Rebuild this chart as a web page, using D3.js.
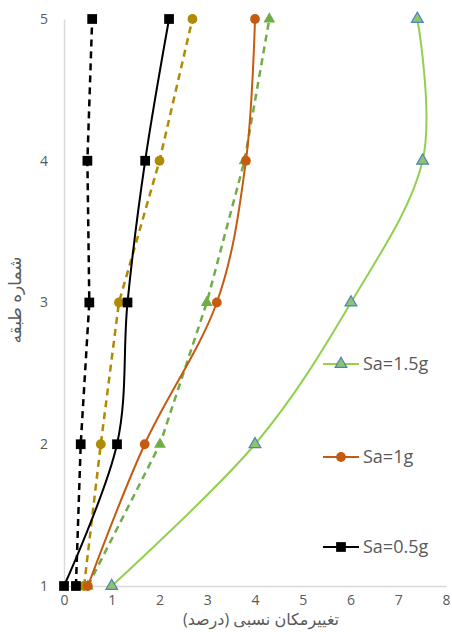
<!DOCTYPE html>
<html>
<head>
<meta charset="utf-8">
<script src="https://cdn.jsdelivr.net/npm/d3@7"></script>
<style>
  body { margin: 0; background: #fff; }
  text { font-family: "Open Sans", "DejaVu Sans", sans-serif; }
</style>
</head>
<body>
<svg width="452" height="632"></svg>
<script>
// floor numbers and drift values (%)
var floors = [1, 2, 3, 4, 5];
var xTicks = [0, 1, 2, 3, 4, 5, 6, 7, 8];
var sa05Solid = [0.00, 1.11, 1.33, 1.70, 2.20];
var sa05Dash  = [0.25, 0.35, 0.53, 0.49, 0.59];
var sa1Solid  = [0.50, 1.69, 3.20, 3.81, 4.00];
var sa1Dash   = [0.42, 0.77, 1.15, 2.00, 2.69];
var sa15Solid = [1.00, 4.00, 6.01, 7.51, 7.40];
var sa15Dash  = [0.50, 2.01, 2.99, 3.78, 4.30];
var legendLabels = ['Sa=1.5g', 'Sa=1g', 'Sa=0.5g'];

var svg = d3.select('svg');

var x = d3.scaleLinear().domain([0, 8]).range([64, 446]);
var y = d3.scaleLinear().domain([1, 5]).range([586, 19]);

// axes
var gx = svg.append('g').attr('transform', 'translate(0,' + y(1) + ')')
  .call(d3.axisBottom(x).tickValues(xTicks).tickFormat(d3.format('d'))
    .tickSize(0).tickSizeOuter(0).tickPadding(9));
var gy = svg.append('g').attr('transform', 'translate(' + x(0) + ',0)')
  .call(d3.axisLeft(y).tickValues(floors).tickFormat(d3.format('d'))
    .tickSize(0).tickSizeOuter(0).tickPadding(16));
[gx, gy].forEach(function (g) {
  g.select('.domain').attr('stroke', '#d9d9d9').attr('stroke-width', 1.5);
  g.selectAll('text').attr('fill', '#595959').style('font-size', '14px');
});

// axis titles
svg.append('text').attr('x', 261).attr('y', 625).attr('text-anchor', 'middle')
  .attr('direction', 'rtl').attr('fill', '#595959').style('font-size', '16px')
  .text('تغییرمکان نسبی (درصد)');
svg.append('text').attr('transform', 'translate(21,300) rotate(-90)').attr('text-anchor', 'middle')
  .attr('direction', 'rtl').attr('fill', '#595959').style('font-size', '17px')
  .text('شماره طبقه');

var series = [
  { vals: sa15Solid, color: '#92d050', width: 2, dash: null, smooth: true,
    shape: d3.symbolTriangle, size: 60, fill: '#8cc56c', stroke: '#4f81bd' },
  { vals: sa15Dash, color: '#70ad47', width: 2.5, dash: '7,5', smooth: false,
    shape: d3.symbolTriangle, size: 60, fill: '#70ad47', stroke: 'none' },
  { vals: sa1Dash, color: '#b08a00', width: 2.5, dash: '7,5', smooth: false,
    shape: d3.symbolCircle, size: 75, fill: '#b08a00', stroke: 'none' },
  { vals: sa1Solid, color: '#c55a11', width: 2, dash: null, smooth: true,
    shape: d3.symbolCircle, size: 75, fill: '#c55a11', stroke: 'none' },
  { vals: sa05Dash, color: '#000', width: 2.5, dash: '7,5', smooth: false,
    shape: d3.symbolSquare, size: 95, fill: '#000', stroke: 'none' },
  { vals: sa05Solid, color: '#000', width: 2, dash: null, smooth: true,
    shape: d3.symbolSquare, size: 95, fill: '#000', stroke: 'none' }
];

series.forEach(function (s) {
  var pts = floors.map(function (f, i) { return [s.vals[i], f]; });
  var line = d3.line()
    .x(function (d) { return x(d[0]); })
    .y(function (d) { return y(d[1]); })
    .curve(s.smooth ? d3.curveCatmullRom.alpha(0) : d3.curveLinear);
  svg.append('path').datum(pts).attr('d', line)
    .attr('fill', 'none').attr('stroke', s.color).attr('stroke-width', s.width)
    .attr('stroke-dasharray', s.dash);
  svg.selectAll(null).data(pts).enter().append('path')
    .attr('d', d3.symbol(s.shape, s.size))
    .attr('transform', function (d) { return 'translate(' + x(d[0]) + ',' + y(d[1]) + ')'; })
    .attr('fill', s.fill).attr('stroke', s.stroke).attr('stroke-width', 1.2);
});

// legend (solid series only)
var legendY = [364, 457, 547];
var legendSeries = [series[0], series[3], series[5]];
legendSeries.forEach(function (s, i) {
  var g = svg.append('g').attr('transform', 'translate(323,' + legendY[i] + ')');
  g.append('line').attr('x1', 0).attr('x2', 36).attr('stroke', s.color).attr('stroke-width', s.width);
  g.append('path').attr('d', d3.symbol(s.shape, s.size)).attr('transform', 'translate(18,0)')
    .attr('fill', s.fill).attr('stroke', s.stroke).attr('stroke-width', 1.2);
  g.append('text').attr('x', 40).attr('dy', '0.35em').attr('fill', '#595959')
    .style('font-size', '18px').text(legendLabels[i]);
});
</script>
</body>
</html>
